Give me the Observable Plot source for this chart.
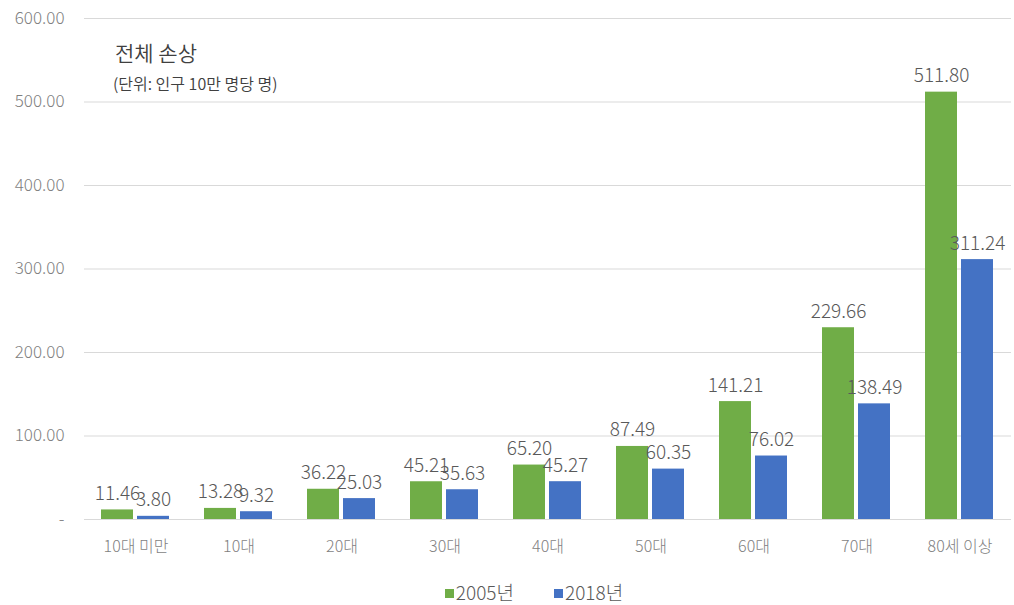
<!DOCTYPE html>
<html>
<head>
<meta charset="utf-8">
<script src="https://cdn.jsdelivr.net/npm/d3@7"></script>
<script src="https://cdn.jsdelivr.net/npm/@observablehq/plot@0.6"></script>
<style>
  body { margin: 0; background: #fff; font-family: "Noto Sans CJK KR", "Noto Sans", sans-serif; }
  #wrap { position: relative; width: 1014px; height: 605px; }
  #title { position: absolute; left: 115px; top: 37px; font-size: 21px; color: #404040; font-weight: 350; }
  #subtitle { position: absolute; left: 113px; top: 71px; font-size: 16px; color: #404040; font-weight: 350; }
  #legend { display: flex; justify-content: center; gap: 40px; padding-top: 17px; font-size: 19px; color: #595959; line-height: 20px; padding-left: 54px; font-weight: 300; }
  #legend span.sw { display: inline-block; width: 9px; height: 9px; margin-right: 2px; vertical-align: 2px; }
  #chart svg text { font-weight: 300; }
</style>
</head>
<body>
<div id="wrap">
  <div id="chart"></div>
  <div id="legend"></div>
  <div id="title">전체 손상</div>
  <div id="subtitle">(단위: 인구 10만 명당 명)</div>
</div>
<script>
const categories = ["10대 미만","10대","20대","30대","40대","50대","60대","70대","80세 이상"];
const series = ["2005년","2018년"];
const values2005 = [11.46,13.28,36.22,45.21,65.20,87.49,141.21,229.66,511.80];
const values2018 = [3.80,9.32,25.03,35.63,45.27,60.35,76.02,138.49,311.24];
const colors = ["#70AD47","#4472C4"];
const yTicks = [0,100,200,300,400,500,600];

const data = [];
categories.forEach((c,i)=>{
  data.push({cat:c, series:series[0], value:values2005[i]});
  data.push({cat:c, series:series[1], value:values2018[i]});
});

const chart = Plot.plot({
  width: 1014, height: 565,
  marginLeft: 83, marginRight: 3, marginTop: 18, marginBottom: 46,
  style: {fontSize: "16px", color: "#7f7f7f", fontFamily: "'Noto Sans CJK KR', 'Noto Sans', sans-serif", background: "#fff"},
  fx: {domain: categories, padding: 0, label: null, axis: "bottom", tickSize: 0, tickPadding: 21},
  x: {domain: series, paddingInner: 0.11, paddingOuter: 0.467, axis: null},
  y: {domain: [0,600], ticks: yTicks, label: null, tickSize: 0, tickPadding: 20,
      tickFormat: d => d === 0 ? "-" : d.toFixed(2)},
  color: {domain: series, range: colors},
  marks: [
    Plot.ruleY(yTicks, {stroke: "#d9d9d9", strokeWidth: 1}),
    Plot.barY(data, {fx: "cat", x: "series", y: "value", fill: "series"}),
    Plot.text(data, {fx: "cat", x: "series", y: "value", text: d => d.value.toFixed(2),
      dy: -10, lineAnchor: "bottom", fontSize: 19, fill: "#595959"})
  ]
});
chart.querySelectorAll("text").forEach(t => {
  const g = t.closest("g[aria-label]");
  if (g && /^y-axis/.test(g.getAttribute("aria-label"))) t.setAttribute("font-size", "17");
});
document.getElementById("chart").appendChild(chart);

const leg = document.getElementById("legend");
series.forEach((s,i)=>{
  const d = document.createElement("div");
  d.innerHTML = `<span class="sw" style="background:${colors[i]}"></span>${s}`;
  leg.appendChild(d);
});
</script>
</body>
</html>
